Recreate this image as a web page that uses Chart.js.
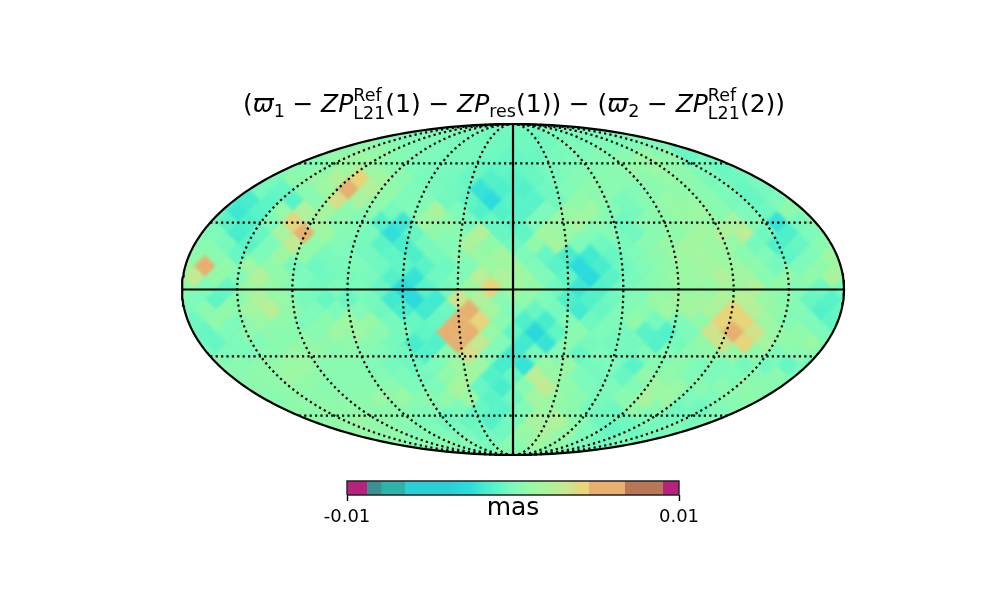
<!DOCTYPE html>
<html><head><meta charset="utf-8">
<style>
html,body{margin:0;padding:0;background:#fff;width:1000px;height:600px;overflow:hidden}
canvas{position:absolute;display:block}
</style>
<script src="https://cdn.jsdelivr.net/npm/chart.js@4"></script>
</head><body>
<canvas id="map" width="1000" height="600" style="left:0;top:0"></canvas>
<canvas id="bar" width="420" height="70" style="left:300px;top:470px"></canvas>
<script>
const FONT = '"DejaVu Sans"';
const warmUnit = 1.5e-4, coolUnit = 1.0e-4, cellShift = 2e-4;
const cellRows = [
[-4,-4],
[-2,0,-2,-3,-5,-6,-6,-4,-3,-2,-4],
[3,4,2,0,-2,-3,-4,-6,-6,-5,-2,-2,-1,0,-2,-8],
[0,5,8,5,1,-2,-3,-3,-6,-8,-7,-3,-1,1,2,6,3,-8,-6],
[-1,1,3,8,7,2,-2,-3,-4,-8,-9,-8,-4,-1,1,2,5,7,3,-2,-7,-3],
[-3,3,6,14,28,10,2,-3,-4,-8,-14,-12,-8,-3,1,2,2,3,5,3,-3,-6,-3],
[-12,-4,-8,2,8,30,15,4,-2,-3,-6,-24,-16,-14,-6,0,3,2,0,2,4,2,-2,-8,-4,3],
[-14,-18,-10,-12,2,24,12,4,-1,0,-5,-10,-28,-12,-12,-5,4,3,-3,2,5,5,2,-3,-8,-2,5],
[-6,-22,-12,5,14,10,3,2,-4,0,12,-2,-14,-14,-12,-2,6,8,0,-4,3,6,8,2,-2,-6,3,6],
[-2,-12,-16,-2,28,12,2,0,-14,-22,8,4,-4,-8,-12,-2,6,10,2,-6,2,4,6,6,12,0,-24,-4,4],
[0,-2,-18,-8,12,30,8,1,-3,-26,-8,3,2,14,-8,-10,10,6,0,0,-5,2,4,10,14,16,-6,-16,-2,3],
[2,-4,-12,-2,18,4,0,-4,-12,-18,-4,0,12,4,-6,4,10,-2,-6,-3,2,6,10,8,6,-4,-16,-8,2],
[4,2,-8,-2,8,4,-3,-2,-5,-10,-16,-4,2,6,10,-2,-8,-18,-20,-8,-2,3,8,10,8,2,-2,-10,-2,8],
[10,30,4,8,4,-4,-6,-3,-2,-6,-10,-12,-6,0,8,10,-2,-12,-28,-18,-6,0,4,8,10,8,4,-4,-2,4,10],
[4,18,4,0,14,4,-2,-5,-4,-3,-14,-24,-6,-2,16,14,8,-2,-10,-30,-12,-3,2,8,8,14,10,2,4,4,12,4],
[4,0,-8,8,5,0,-4,-2,-2,-8,-30,-12,-4,8,26,10,4,-6,-22,-14,-4,0,4,6,6,10,14,4,0,-6,-2],
[0,-2,-10,2,14,6,-3,-8,-8,-4,-20,-30,-20,22,14,2,4,-2,-16,-14,-6,0,6,10,10,14,16,6,2,-8,-12,-4],
[-3,2,4,10,16,4,-2,-2,0,-6,-18,-20,-6,32,10,-2,-8,-4,-20,-8,0,2,8,10,12,26,14,4,0,-14,-8],
[-6,4,-1,6,4,-1,2,8,5,-4,-8,-8,42,28,2,-16,-18,0,-6,-1,4,-4,-2,4,28,26,8,0,-2,-10],
[-8,-2,3,3,2,2,8,8,2,-4,-10,32,40,6,-10,-32,-10,2,-2,-4,-12,-14,-2,22,34,22,6,4,-2],
[-4,-8,-2,0,2,4,3,4,2,-4,-18,-14,32,18,0,-20,-24,2,-4,-4,-4,-14,-4,4,22,26,10,4,6,2],
[-4,-2,-2,2,6,6,2,2,0,-6,-14,2,24,0,-20,-4,0,-8,-2,-4,-2,0,2,4,6,4,-2,2,2],
[2,2,4,6,8,2,2,0,-4,-6,-2,8,8,-18,-24,6,6,-4,-2,-12,2,3,-2,-2,-4,-4,-8,-4],
[2,3,4,8,4,2,2,0,-2,-4,4,10,-14,-8,16,6,-2,-4,-8,4,4,0,-2,-1,2,2,-2],
[2,3,4,4,2,2,2,2,-2,-2,12,-8,-18,2,18,4,-2,-2,0,8,6,2,2,4,2,1],
[2,3,3,3,3,6,6,2,4,8,-12,-6,10,6,2,-3,2,12,8,-2,-2,2,3],
[2,4,4,4,3,3,1,0,-2,-8,-12,0,8,3,-4,-6,4,2,-5,-6,0,2],
[3,4,6,3,2,-2,-6,-8,-14,-4,12,14,2,-6,-6,-2,-4,-4,0],
[4,5,4,1,-1,-3,-6,-6,6,12,6,-2,-8,-6,-4,-1],
[3,2,2,0,-3,2,8,4,-2,-6,-2],
[2,2]
];
// Colour bar stops.
const barTicks = [-0.01, 0.01];
const barTickLabels = ['-0.01', '0.01'];
const barUnit = 'mas';
const barValues = [-0.01,-0.0088,-0.00879,-0.0079,-0.00789,-0.0065,-0.00649,-0.0038,-0.0026,-0.0017,-0.0008,0,0.001,0.0022,0.0031,0.0039,0.00391,0.0046,0.00461,0.0067,0.00671,0.0090,0.00901,0.01];
const barColors = ['#b5237f','#b5237f','#3a9092','#3a9092','#2fb2aa','#2fb2aa','#2ad0d6','#2ad0d6','#2cdcdc','#45eccd','#60f5c5','#7efabb','#96f9a6','#aef29c','#c8e890','#d8dc88','#e8d47a','#e8d47a','#e8b070','#e8b070','#b87858','#b87858','#b5237f','#b5237f'];
// Graticule
const meridianLons = [-150,-120,-90,-60,-30,30,60,90,120,150];
const parallelLats = [-60,-30,30,60];
// Title pieces: t text, i italic, sub / sup script.
const titleParts = [
 {t:'('},{t:'\u03D6',i:1},{t:'1',sub:1},{gap:1},{t:'\u2212'},{gap:1},{t:'ZP',i:1},{sup:'Ref',sub:'L21'},{t:'(1)'},{gap:1},{t:'\u2212'},{gap:1},
 {t:'ZP',i:1},{t:'res',sub:1},{t:'(1))'},{gap:1},{t:'\u2212'},{gap:1},{t:'('},{t:'\u03D6',i:1},{t:'2',sub:1},{gap:1},{t:'\u2212'},{gap:1},
 {t:'ZP',i:1},{sup:'Ref',sub:'L21'},{t:'(2))'}
];

function hexRgb(h){return [1,3,5].map(i=>parseInt(h.substr(i,2),16));}
function colorOf(v){
  if(v<=barValues[0])return barColors[0];
  for(let i=1;i<barValues.length;i++){
    if(v<=barValues[i]){
      const a=hexRgb(barColors[i-1]),b=hexRgb(barColors[i]),f=(v-barValues[i-1])/(barValues[i]-barValues[i-1]);
      return 'rgb('+a.map((c,k)=>Math.round(c+(b[k]-c)*f)).join(',')+')';
    }
  }
  return barColors[barColors.length-1];
}
function mollY(lat){
  let th=lat*Math.PI/180;const target=Math.PI*Math.sin(th);
  for(let i=0;i<30;i++){th-=(2*th+Math.sin(2*th)-target)/(2+2*Math.cos(2*th));}
  return Math.sin(th);
}
function meridianPts(lon){
  const out=[];
  for(let i=0;i<=160;i++){const y=Math.sin(-Math.PI/2+i*Math.PI/160);out.push({x:lon/180*2*Math.sqrt(Math.max(0,1-y*y)),y});}
  return out;
}
const rowStep=11/165.5, colStep=22/165.5;
const cellPts=[];
cellRows.forEach((row,r)=>{
  const y=((cellRows.length-1)/2-r)*rowStep;
  row.forEach((u,j)=>cellPts.push({x:(j-(row.length-1)/2)*colStep,y,v:(u<0?u*coolUnit:u*warmUnit)+cellShift}));
});

const lineBase={showLine:true,pointRadius:0,tension:0,fill:false,clip:false,borderColor:'#000'};
const datasets=[{
  label:'cells',data:cellPts,showLine:false,pointStyle:'rectRot',pointRadius:12.5,pointBorderWidth:0,
  pointBackgroundColor:cellPts.map(p=>colorOf(p.v)),order:10
}];
meridianLons.forEach(l=>datasets.push({...lineBase,data:meridianPts(l),borderWidth:2.2,borderDash:[2.2,3.2],order:5}));
parallelLats.forEach(l=>{const y=mollY(l),w=2*Math.sqrt(1-y*y);datasets.push({...lineBase,data:[{x:-w,y},{x:w,y}],borderWidth:2.2,borderDash:[2.2,3.2],order:5});});
datasets.push({...lineBase,data:[{x:-2,y:0},{x:2,y:0}],borderWidth:2.2,order:2});
datasets.push({...lineBase,data:[{x:0,y:-1},{x:0,y:1}],borderWidth:2.2,order:2});
datasets.push({...lineBase,data:meridianPts(-180).concat(meridianPts(180).reverse()),borderWidth:2.2,order:1});

const mapClip={id:'mapClip',
  beforeDatasetDraw(c,a){ if(a.index!==0)return;
    const {ctx,scales:{x,y}}=c;ctx.save();ctx.beginPath();
    ctx.ellipse(x.getPixelForValue(0),y.getPixelForValue(0),(x.getPixelForValue(2)-x.getPixelForValue(-2))/2,(y.getPixelForValue(-1)-y.getPixelForValue(1))/2,0,0,Math.PI*2);ctx.clip();
    ctx.fillStyle=colorOf(cellShift);ctx.fillRect(x.left-2,y.top-2,x.width+4,y.height+4);
    ctx.filter='blur(1.6px)';},
  afterDatasetDraw(c,a){ if(a.index===0){c.ctx.filter='none';c.ctx.restore();} }
};
const mathTitle={id:'mathTitle',
  afterDraw(c){
    const ctx=c.ctx,S=25,s=17.5,base=112;
    const fnt=(sz,it)=>(it?'italic ':'')+sz+'px '+FONT;
    const w=p=>{
      if(p.gap)return 7.7;
      if(p.sup){ctx.font=fnt(s);return Math.max(ctx.measureText(p.sup).width,ctx.measureText(p.sub).width);}
      ctx.font=fnt(p.sub?s:S,p.i);return ctx.measureText(p.t).width;
    };
    const total=titleParts.reduce((a,p)=>a+w(p),0);
    let x=514-total/2;
    ctx.save();ctx.fillStyle='#000';ctx.textBaseline='alphabetic';ctx.textAlign='left';
    titleParts.forEach(p=>{
      const pw=w(p);
      if(p.sup){ctx.font=fnt(s);ctx.fillText(p.sup,x,base-11);ctx.fillText(p.sub,x,base+7);}
      else if(p.t){ctx.font=fnt(p.sub?s:S,p.i);ctx.fillText(p.t,x,base+(p.sub?5:0));}
      x+=pw;
    });
    ctx.restore();
  }
};
new Chart(document.getElementById('map'),{
  type:'scatter',data:{datasets},plugins:[mapClip,mathTitle],
  options:{responsive:false,animation:false,devicePixelRatio:1,
    layout:{padding:{left:182,right:156,top:124,bottom:145}},
    plugins:{legend:{display:false},tooltip:{enabled:false}},events:[],
    scales:{x:{type:'linear',display:false,min:-2,max:2},y:{type:'linear',display:false,min:-1,max:1}}}
});

// colour bar
const barSets=[];
const barStep=0.02/166;
for(let i=0;i<166;i++){
  const a=-0.01+i*barStep;
  barSets.push({data:[{x:a,y:.5},{x:Math.min(a+barStep*1.5,0.01),y:.5}],showLine:true,pointRadius:0,borderWidth:14,
    borderColor:colorOf(a+barStep/2),borderCapStyle:'butt',order:300-i,clip:false});
}
barSets.push({data:[{x:-0.01,y:0},{x:0.01,y:0},{x:0.01,y:1},{x:-0.01,y:1},{x:-0.01,y:0}],showLine:true,pointRadius:0,borderWidth:1.4,borderColor:'#222',order:1,clip:false});
new Chart(document.getElementById('bar'),{
  type:'scatter',data:{datasets:barSets},
  options:{responsive:false,animation:false,devicePixelRatio:1,events:[],
    layout:{padding:{left:47,right:41,top:11,bottom:0}},
    plugins:{legend:{display:false},tooltip:{enabled:false}},
    scales:{
      y:{type:'linear',display:false,min:0,max:1},
      x:{type:'linear',min:-0.01,max:0.01,
        afterBuildTicks(a){a.ticks=barTicks.map(v=>({value:v}));},
        afterFit(a){a.height=45;},
        grid:{drawOnChartArea:false,tickLength:6,tickColor:'#000',tickWidth:1.4,drawTicks:true},
        border:{display:false},
        ticks:{autoSkip:false,maxRotation:0,color:'#000',padding:6,font:{family:FONT,size:18},callback:(v,i)=>barTickLabels[i]},
        title:{display:true,text:barUnit,color:'#000',font:{family:FONT,size:25},padding:{top:0,bottom:17}}
      }
    }}
});
</script>
</body></html>
